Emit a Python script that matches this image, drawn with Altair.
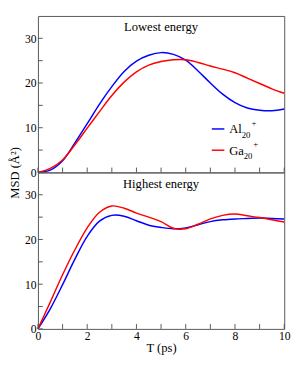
import altair as alt
import pandas as pd

# ---------------- data ----------------
t = [0, 0.5, 1, 1.5, 2, 2.5, 3, 3.5, 4, 4.5, 5, 5.5, 6, 6.5, 7, 7.5, 8, 8.5, 9, 9.5, 10]

low_al = [0, 0.5, 2.6, 6.6, 10.9, 15.3, 19.2, 22.6, 24.9, 26.2, 26.8, 26.4, 25.1, 22.7, 20.0, 17.5, 15.6, 14.4, 13.9, 13.8, 14.2]
low_ga = [0, 0.9, 2.8, 6.2, 9.9, 13.6, 17.2, 20.2, 22.5, 24.0, 24.8, 25.2, 25.2, 24.6, 23.8, 23.1, 22.3, 21.1, 19.9, 18.7, 17.7]

high_al = [0, 4.5, 9.9, 15.6, 20.7, 24.1, 25.4, 25.2, 24.2, 23.2, 22.7, 22.4, 22.6, 23.3, 24.0, 24.4, 24.6, 24.7, 24.8, 24.7, 24.6]
high_ga = [0, 6.0, 12.1, 17.7, 22.6, 26.1, 27.5, 27.0, 25.9, 25.0, 24.0, 22.5, 22.4, 23.4, 24.6, 25.4, 25.7, 25.3, 24.9, 24.4, 23.9]

series = ["Al20+", "Ga20+"]
colors = ["#0000ff", "#ff0000"]
panel_titles = ["Lowest energy", "Highest energy"]

x_ticks = [0, 1, 2, 3, 4, 5, 6, 7, 8, 9, 10]
x_labels = [0, 2, 4, 6, 8, 10]
y_ticks = [0, 5, 10, 15, 20, 25, 30]
y_labels = [0, 10, 20, 30]

# ---------------- style ----------------
W, H = 255, 162
FONT = "Liberation Serif"
AX = "#555555"
TL = 5  # inward tick length (px)

xscale = alt.Scale(domain=[0, 10], nice=False, zero=False)
yscale = alt.Scale(domain=[0, 35], nice=False, zero=False)


def x_axis(show):
    kw = dict(values=x_labels, ticks=False, domain=False, grid=False,
              labels=show, labelPadding=2, labelFontSize=12, labelFont=FONT,
              labelColor="black", labelFlush=False)
    if show:
        kw.update(title="T (ps)", titleFont=FONT, titleFontSize=13,
                  titleFontWeight="normal", titleColor="black", titlePadding=0)
    else:
        kw.update(title="")
    return alt.Axis(**kw)


def y_axis(with_title):
    kw = dict(values=y_labels, ticks=False, domain=False, grid=False,
              labelPadding=2, labelFontSize=12, labelFont=FONT,
              labelColor="black")
    if with_title:
        kw.update(title="MSD (Å²)", titleFont=FONT, titleFontSize=13,
                  titleFontWeight="normal", titleColor="black", titlePadding=3,
                  titleY=H, titleAlign="center")
    else:
        kw.update(title="")
    return alt.Axis(**kw)


def panel(al, ga, title, show_x, with_ytitle, legend):
    xa = x_axis(show_x)
    ya = y_axis(with_ytitle)
    df = pd.DataFrame({
        "t": t + t,
        "msd": al + ga,
        "s": [series[0]] * len(t) + [series[1]] * len(t),
    })
    lines = alt.Chart(df).mark_line(strokeWidth=1.5, interpolate="catmull-rom").encode(
        x=alt.X("t:Q", scale=xscale, axis=xa),
        y=alt.Y("msd:Q", scale=yscale, axis=ya),
        color=alt.Color("s:N", scale=alt.Scale(domain=series, range=colors), legend=None),
        detail="s:N",
    )
    xt = alt.Chart(pd.DataFrame({"t": x_ticks})).mark_rule(color=AX, strokeWidth=1).encode(
        x=alt.X("t:Q", scale=xscale, axis=xa),
        y=alt.value(H), y2=alt.value(H - TL),
    )
    yt = alt.Chart(pd.DataFrame({"msd": y_ticks})).mark_rule(color=AX, strokeWidth=1).encode(
        y=alt.Y("msd:Q", scale=yscale, axis=ya),
        x=alt.value(0), x2=alt.value(TL),
    )
    ttl = alt.Chart(pd.DataFrame({"label": [title]})).mark_text(
        font=FONT, fontSize=13, color="black", align="center", baseline="alphabetic"
    ).encode(text="label:N", x=alt.value(W / 2), y=alt.value(16))
    layers = [lines, xt, yt, ttl]
    if legend:
        ys = [117, 139]
        names = [("Al", "20", "+", 13.0), ("Ga", "20", "+", 15.0)]
        for i in range(2):
            yy = ys[i]
            base, sub, sup, wbase = names[i]
            layers.append(alt.Chart(pd.DataFrame({"k": [0]})).mark_rule(
                color=colors[i], strokeWidth=1.5).encode(
                x=alt.value(180), x2=alt.value(193), y=alt.value(yy)))
            layers.append(alt.Chart(pd.DataFrame({"k": [0]})).mark_text(
                font=FONT, fontSize=13, color="black", align="left", baseline="alphabetic",
                text=base).encode(x=alt.value(198), y=alt.value(yy + 4.5)))
            layers.append(alt.Chart(pd.DataFrame({"k": [0]})).mark_text(
                font=FONT, fontSize=9, color="black", align="left", baseline="alphabetic",
                text=sub).encode(x=alt.value(198 + wbase), y=alt.value(yy + 9)))
            layers.append(alt.Chart(pd.DataFrame({"k": [0]})).mark_text(
                font=FONT, fontSize=9, color="black", align="left", baseline="alphabetic",
                text=sup).encode(x=alt.value(198 + wbase + 10), y=alt.value(yy - 3)))
    return alt.layer(*layers).properties(width=W, height=H)


top = panel(low_al, low_ga, panel_titles[0], False, True, True)
bottom = panel(high_al, high_ga, panel_titles[1], True, False, False)

chart = alt.vconcat(top, bottom, spacing=0, bounds="flush").properties(
    padding={"left": 0, "top": 1, "right": 0, "bottom": 0},
    background="white",
).configure_view(stroke=AX, strokeWidth=1)

chart.save("out.html", embed_options={"renderer": "svg", "actions": False})
